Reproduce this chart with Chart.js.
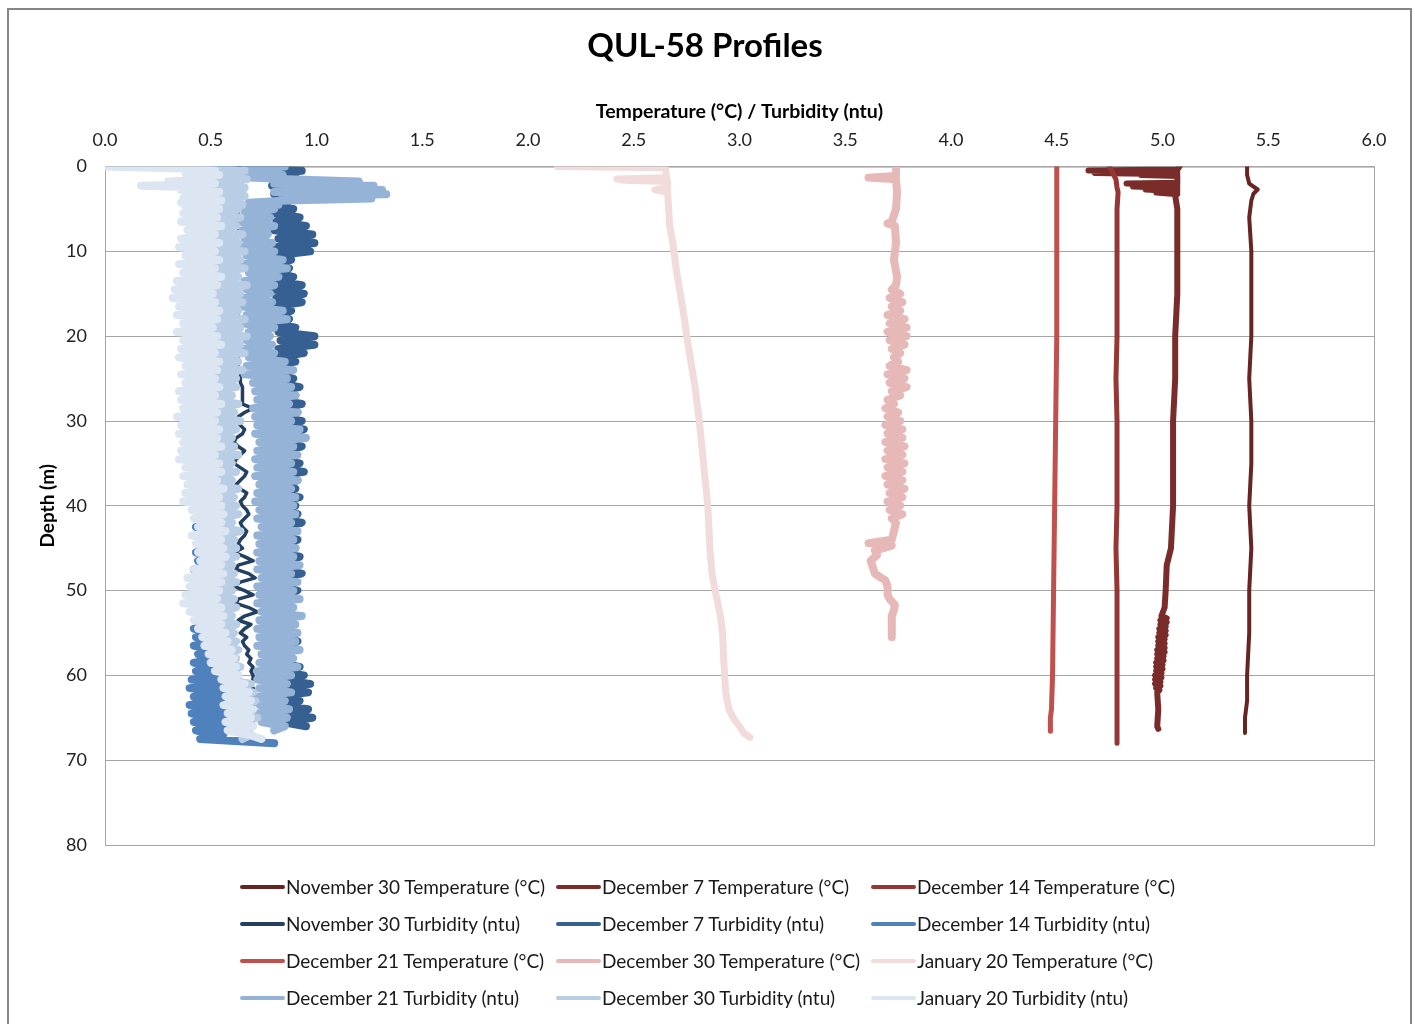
<!DOCTYPE html>
<html>
<head>
<meta charset="utf-8">
<script src="https://cdn.jsdelivr.net/npm/chart.js@4.4.1/dist/chart.umd.min.js"></script>
<style>
  body { margin: 0; background: #fff; font-family: Lato, "Open Sans", sans-serif; }
  #wrap { position: relative; width: 1415px; height: 1024px; overflow: hidden; }
  #chart { position: absolute; left: 0; top: 0; }
  #frame { position: absolute; left: 7px; top: 8px; width: 1401px; height: 1040px; border: 2px solid #868686; pointer-events: none; }
  #legend { position: absolute; left: 240px; top: 868px; display: grid; grid-template-columns: 316px 315px 316px; grid-auto-rows: 37px; }
  .item { display: flex; align-items: center; font-size: 19px; color: #1a1a1a; white-space: nowrap; }
  .swatch { width: 45px; height: 4px; margin-right: 1px; border-radius: 2px; }
</style>
</head>
<body>
<div id="wrap">
  <canvas id="chart" width="1415" height="1024"></canvas>
  <div id="frame"></div>
  <div id="legend"></div>
</div>
<script>
// --- Data ---
// temperature profiles: depth (m) and value (°C)
const nov30TempDepth = [0, 1, 2, 2.7, 3.2, 4, 6, 10, 15, 20, 25, 30, 35, 40, 45, 50, 55, 60, 63, 65, 66, 66.8];
const nov30Temp = [5.40, 5.40, 5.41, 5.45, 5.43, 5.42, 5.41, 5.42, 5.42, 5.42, 5.41, 5.42, 5.42, 5.41, 5.42, 5.41, 5.41, 5.40, 5.40, 5.39, 5.39, 5.39];

const dec7TempDepth = [0, 0.35, 0.45, 0.6, 0.75, 0.9, 1.0, 1.1, 1.9, 2.0, 2.2, 2.35, 2.55, 2.7, 2.9, 3.05, 3.25, 3.4,
  5, 10, 15, 20, 25, 30, 35, 40, 45, 47, 50, 52,
  53, 53.25, 53.5, 53.75, 54, 54.25, 54.5, 54.75, 55, 55.25, 55.5, 55.75, 56, 56.25, 56.5, 56.75, 57, 57.25, 57.5, 57.75,
  58, 58.25, 58.5, 58.75, 59, 59.25, 59.5, 59.75, 60, 60.25, 60.5, 60.75, 61, 61.25, 61.5, 61.75, 62,
  64, 66, 66.3];
const dec7Temp = [5.08, 5.07, 4.65, 5.07, 4.68, 5.07, 4.90, 5.07, 5.07, 4.83, 5.07, 4.86, 5.07, 4.92, 5.07, 4.97, 5.07, 5.06,
  5.07, 5.07, 5.07, 5.06, 5.06, 5.05, 5.05, 5.05, 5.04, 5.02, 5.015, 5.01,
  4.995, 5.02, 4.99, 5.02, 4.99, 5.015, 4.985, 5.015, 4.985, 5.015, 4.98, 5.01, 4.98, 5.01, 4.98, 5.01, 4.975, 5.01, 4.975, 5.005,
  4.975, 5.005, 4.97, 5.0, 4.97, 5.0, 4.97, 4.995, 4.965, 4.995, 4.965, 4.99, 4.965, 4.99, 4.97, 4.985, 4.975,
  4.98, 4.975, 4.98];

const dec14TempDepth = [0, 0.5, 1, 1.5, 2.5, 3, 5, 10, 15, 20, 25, 30, 35, 40, 45, 50, 55, 60, 65, 68];
const dec14Temp = [4.75, 4.76, 4.77, 4.78, 4.785, 4.79, 4.785, 4.785, 4.785, 4.785, 4.78, 4.785, 4.785, 4.785, 4.78, 4.785, 4.785, 4.785, 4.785, 4.785];

const dec21TempDepth = [0, 5, 10, 20, 30, 40, 50, 60, 64, 65, 66.6];
const dec21Temp = [4.50, 4.50, 4.50, 4.50, 4.495, 4.49, 4.485, 4.48, 4.475, 4.47, 4.47];

const dec30TempDepth = [0.3, 1.1, 1.3, 1.5, 3, 5, 6.5, 6.7, 7, 9, 11, 13, 14,
  14.5, 15, 15.5, 16, 16.5, 17, 17.5, 18, 18.5, 19, 19.5, 20, 20.5, 21, 21.5, 22, 22.5, 23, 23.5, 24, 24.5, 25,
  25.5, 26, 26.5, 27, 27.5, 28, 28.5, 29, 29.5, 30, 30.5, 31, 31.5, 32, 32.5, 33, 33.5, 34, 34.5, 35,
  35.5, 36, 36.5, 37, 37.5, 38, 38.5, 39, 39.5, 40, 40.5, 41, 41.5, 42,
  43, 44, 44.4, 44.7, 45.3, 45.8, 46.5, 47.2, 48, 48.5, 48.8, 49.5, 50.5, 51, 51.7, 52.3, 53, 54, 55.5];
const dec30Temp = [3.74, 3.74, 3.61, 3.74, 3.745, 3.74, 3.72, 3.70, 3.735, 3.74, 3.73, 3.745, 3.74,
  3.72, 3.76, 3.71, 3.77, 3.72, 3.76, 3.70, 3.78, 3.71, 3.79, 3.70, 3.79, 3.71, 3.78, 3.72, 3.76, 3.73, 3.75, 3.71, 3.79, 3.70, 3.78,
  3.71, 3.79, 3.72, 3.76, 3.70, 3.73, 3.69, 3.75, 3.70, 3.76, 3.69, 3.77, 3.70, 3.77, 3.69, 3.78, 3.70, 3.77, 3.69, 3.78,
  3.70, 3.77, 3.69, 3.77, 3.70, 3.78, 3.71, 3.77, 3.70, 3.76, 3.71, 3.77, 3.72, 3.74,
  3.73, 3.72, 3.61, 3.72, 3.64, 3.65, 3.62, 3.63, 3.64, 3.67, 3.69, 3.70, 3.70, 3.71, 3.735, 3.73, 3.72, 3.72, 3.72];

const jan20TempDepth = [0, 0.15, 1.3, 1.45, 1.6, 1.75, 2.5, 2.75, 3, 5, 7, 9, 10, 12, 15, 18, 20, 23, 26,
  30, 35, 40, 45, 48, 50, 53, 55, 58, 60, 62, 64, 65, 66, 66.8, 67.3];
const jan20Temp = [2.14, 2.65, 2.655, 2.42, 2.45, 2.66, 2.66, 2.60, 2.66, 2.665, 2.67, 2.685, 2.69, 2.70, 2.72, 2.74, 2.75, 2.77, 2.79,
  2.81, 2.83, 2.85, 2.86, 2.87, 2.885, 2.91, 2.92, 2.925, 2.93, 2.935, 2.95, 2.97, 3.00, 3.02, 3.05];

// turbidity profiles share one depth grid (finer near the surface)
const turbDepth = [0, 0.25, 0.5, 0.75, 1, 1.25, 1.5, 1.75, 2, 2.25, 2.5, 2.75, 3, 3.25, 3.5, 3.75, 4, 4.25, 4.5, 4.75, 5,
  5.5, 6, 6.5, 7, 7.5, 8, 8.5, 9, 9.5, 10,
  10.5, 11, 11.5, 12, 12.5, 13, 13.5, 14, 14.5, 15,
  15.5, 16, 16.5, 17, 17.5, 18, 18.5, 19, 19.5, 20,
  20.5, 21, 21.5, 22, 22.5, 23, 23.5, 24, 24.5, 25,
  25.5, 26, 26.5, 27, 27.5, 28, 28.5, 29, 29.5, 30,
  30.5, 31, 31.5, 32, 32.5, 33, 33.5, 34, 34.5, 35,
  35.5, 36, 36.5, 37, 37.5, 38, 38.5, 39, 39.5, 40,
  40.5, 41, 41.5, 42, 42.5, 43, 43.5, 44, 44.5, 45,
  45.5, 46, 46.5, 47, 47.5, 48, 48.5, 49, 49.5, 50,
  50.5, 51, 51.5, 52, 52.5, 53, 53.5, 54, 54.5, 55,
  55.5, 56, 56.5, 57, 57.5, 58, 58.5, 59, 59.5, 60,
  60.5, 61, 61.5, 62, 62.5, 63, 63.5, 64, 64.5, 65,
  65.5, 66, 66.5, 67, 67.5, 68];

const nov30Turb = [0.64, 0.64, 0.63, 0.64, 0.64, 0.63, 0.64, 0.65, 0.64, 0.63, 0.64, 0.64, 0.63, 0.64, 0.64, 0.63, 0.64, 0.63, 0.64, 0.63, 0.63,
  0.63, 0.62, 0.63, 0.62, 0.63, 0.62, 0.62, 0.63, 0.62, 0.62,
  0.62, 0.63, 0.62, 0.61, 0.62, 0.63, 0.62, 0.61, 0.62, 0.62,
  0.61, 0.62, 0.61, 0.62, 0.63, 0.62, 0.61, 0.62, 0.61, 0.62,
  0.61, 0.60, 0.61, 0.62, 0.63, 0.62, 0.63, 0.64, 0.64, 0.64,
  0.64, 0.65, 0.65, 0.65, 0.65, 0.65, 0.70, 0.66, 0.63, 0.62,
  0.64, 0.66, 0.65, 0.62, 0.61, 0.63, 0.66, 0.64, 0.62, 0.61,
  0.64, 0.67, 0.66, 0.64, 0.62, 0.64, 0.67, 0.66, 0.64, 0.65,
  0.67, 0.68, 0.66, 0.64, 0.65, 0.67, 0.66, 0.64, 0.63, 0.65,
  0.61, 0.66, 0.70, 0.63, 0.62, 0.68, 0.71, 0.64, 0.61, 0.66,
  0.70, 0.63, 0.62, 0.68, 0.72, 0.66, 0.63, 0.69, 0.66, 0.64,
  0.67, 0.65, 0.66, 0.68, 0.67, 0.69, 0.68, 0.70, 0.69, 0.70,
  0.70, 0.69, 0.70, 0.71, 0.70, 0.69, 0.70, 0.71, 0.70, 0.70,
  0.70, 0.70];

const dec7Turb = [0.62, 0.80, 0.93, 0.78, 0.90, 0.80, 0.88, 0.80, 0.86, 0.79, 0.88, 0.81, 0.87, 0.80, 0.88, 0.82, 0.87, 0.80, 0.86, 0.83, 0.89,
  0.80, 0.92, 0.81, 0.95, 0.80, 0.98, 0.82, 0.99, 0.81, 0.97,
  0.80, 0.88, 0.79, 0.87, 0.80, 0.89, 0.81, 0.93, 0.80, 0.94,
  0.81, 0.93, 0.80, 0.88, 0.79, 0.87, 0.80, 0.90, 0.82, 0.99,
  0.83, 0.99, 0.82, 0.94, 0.80, 0.90, 0.79, 0.88, 0.80, 0.89,
  0.81, 0.92, 0.80, 0.90, 0.82, 0.93, 0.81, 0.91, 0.80, 0.93,
  0.81, 0.94, 0.80, 0.91, 0.82, 0.93, 0.81, 0.90, 0.80, 0.92,
  0.81, 0.94, 0.80, 0.91, 0.82, 0.90, 0.81, 0.92, 0.80, 0.90,
  0.81, 0.91, 0.80, 0.93, 0.82, 0.89, 0.81, 0.91, 0.80, 0.90,
  0.81, 0.92, 0.80, 0.89, 0.82, 0.93, 0.81, 0.90, 0.80, 0.91,
  0.81, 0.89, 0.80, 0.88, 0.82, 0.90, 0.79, 0.87, 0.80, 0.89,
  0.81, 0.91, 0.80, 0.89, 0.82, 0.88, 0.81, 0.92, 0.80, 0.94,
  0.82, 0.97, 0.83, 0.96, 0.81, 0.92, 0.80, 0.96, 0.82, 0.98,
  0.84, 0.95];

const dec14Turb = [0.55, 0.60, 0.48, 0.62, 0.50, 0.60, 0.48, 0.63, 0.50, 0.61, 0.49, 0.62, 0.50, 0.60, 0.48, 0.62, 0.50, 0.61, 0.49, 0.62, 0.50,
  0.47, 0.60, 0.48, 0.61, 0.46, 0.60, 0.47, 0.62, 0.46, 0.60,
  0.47, 0.61, 0.46, 0.60, 0.47, 0.62, 0.45, 0.60, 0.46, 0.61,
  0.45, 0.60, 0.46, 0.61, 0.45, 0.59, 0.46, 0.60, 0.45, 0.61,
  0.46, 0.60, 0.45, 0.61, 0.46, 0.59, 0.45, 0.60, 0.46, 0.61,
  0.45, 0.60, 0.46, 0.59, 0.45, 0.61, 0.46, 0.60, 0.45, 0.59,
  0.45, 0.60, 0.44, 0.59, 0.45, 0.61, 0.44, 0.60, 0.45, 0.59,
  0.44, 0.58, 0.43, 0.59, 0.45, 0.60, 0.44, 0.58, 0.43, 0.59,
  0.45, 0.58, 0.44, 0.59, 0.43, 0.58, 0.45, 0.60, 0.44, 0.58,
  0.43, 0.57, 0.44, 0.58, 0.42, 0.57, 0.43, 0.59, 0.42, 0.57,
  0.43, 0.56, 0.42, 0.57, 0.43, 0.58, 0.44, 0.56, 0.42, 0.57,
  0.43, 0.56, 0.42, 0.57, 0.44, 0.56, 0.42, 0.58, 0.43, 0.56,
  0.41, 0.56, 0.40, 0.57, 0.42, 0.55, 0.40, 0.58, 0.41, 0.56,
  0.42, 0.57, 0.43, 0.56, 0.45, 0.80];

const dec21Turb = [0.85, 0.66, 0.82, 0.64, 0.84, 0.66, 0.86, 1.20, 0.80, 1.27, 0.82, 1.31, 0.80, 1.33, 0.84, 1.26, 0.86, 0.68, 0.82, 0.66, 0.80,
  0.66, 0.78, 0.64, 0.80, 0.65, 0.77, 0.66, 0.79, 0.64, 0.80,
  0.67, 0.84, 0.65, 0.86, 0.68, 0.82, 0.66, 0.80, 0.67, 0.78,
  0.66, 0.79, 0.65, 0.84, 0.67, 0.86, 0.66, 0.80, 0.68, 0.78,
  0.67, 0.79, 0.66, 0.80, 0.68, 0.85, 0.67, 0.89, 0.66, 0.86,
  0.70, 0.88, 0.71, 0.90, 0.72, 0.87, 0.70, 0.91, 0.71, 0.88,
  0.72, 0.92, 0.71, 0.95, 0.73, 0.89, 0.72, 0.91, 0.71, 0.88,
  0.72, 0.89, 0.71, 0.91, 0.73, 0.88, 0.72, 0.90, 0.71, 0.89,
  0.73, 0.90, 0.72, 0.88, 0.74, 0.91, 0.72, 0.89, 0.73, 0.90,
  0.72, 0.89, 0.73, 0.92, 0.72, 0.88, 0.74, 0.91, 0.72, 0.89,
  0.73, 0.92, 0.72, 0.89, 0.74, 0.93, 0.73, 0.90, 0.72, 0.91,
  0.73, 0.90, 0.72, 0.92, 0.74, 0.89, 0.73, 0.91, 0.72, 0.88,
  0.72, 0.86, 0.73, 0.88, 0.72, 0.85, 0.73, 0.87, 0.72, 0.86,
  0.74, 0.85, 0.80];

const dec30Turb = [0.60, 0.50, 0.66, 0.52, 0.64, 0.50, 0.67, 0.54, 0.63, 0.50, 0.66, 0.52, 0.65, 0.50, 0.66, 0.53, 0.64, 0.50, 0.65, 0.52, 0.63,
  0.49, 0.64, 0.51, 0.62, 0.48, 0.65, 0.50, 0.63, 0.49, 0.66,
  0.50, 0.64, 0.48, 0.66, 0.51, 0.63, 0.49, 0.67, 0.50, 0.64,
  0.48, 0.65, 0.47, 0.63, 0.50, 0.66, 0.48, 0.64, 0.49, 0.67,
  0.50, 0.64, 0.48, 0.66, 0.51, 0.63, 0.49, 0.65, 0.50, 0.62,
  0.49, 0.62, 0.47, 0.60, 0.50, 0.63, 0.48, 0.61, 0.50, 0.64,
  0.48, 0.62, 0.49, 0.60, 0.50, 0.61, 0.48, 0.63, 0.49, 0.60,
  0.50, 0.62, 0.49, 0.60, 0.51, 0.63, 0.50, 0.61, 0.52, 0.62,
  0.52, 0.63, 0.51, 0.60, 0.53, 0.64, 0.52, 0.61, 0.54, 0.62,
  0.53, 0.62, 0.52, 0.60, 0.54, 0.61, 0.52, 0.62, 0.53, 0.60,
  0.50, 0.61, 0.51, 0.62, 0.52, 0.60, 0.53, 0.62, 0.54, 0.61,
  0.53, 0.62, 0.54, 0.63, 0.55, 0.62, 0.56, 0.64, 0.57, 0.63,
  0.58, 0.69, 0.59, 0.70, 0.58, 0.71, 0.60, 0.70, 0.59, 0.72,
  0.60, 0.70, 0.61, 0.69, 0.65];

const jan20Turb = [0.00, 0.40, 0.52, 0.38, 0.54, 0.40, 0.50, 0.30, 0.52, 0.17, 0.50, 0.36, 0.54, 0.38, 0.52, 0.37, 0.55, 0.36, 0.52, 0.38, 0.54,
  0.37, 0.53, 0.36, 0.55, 0.39, 0.52, 0.36, 0.54, 0.35, 0.52,
  0.38, 0.54, 0.35, 0.52, 0.37, 0.55, 0.34, 0.53, 0.33, 0.51,
  0.32, 0.52, 0.35, 0.54, 0.34, 0.53, 0.37, 0.51, 0.34, 0.53,
  0.37, 0.55, 0.36, 0.52, 0.35, 0.54, 0.38, 0.53, 0.36, 0.52,
  0.38, 0.54, 0.35, 0.52, 0.36, 0.55, 0.37, 0.53, 0.34, 0.52,
  0.36, 0.54, 0.35, 0.53, 0.37, 0.55, 0.36, 0.52, 0.35, 0.54,
  0.38, 0.55, 0.37, 0.53, 0.39, 0.56, 0.38, 0.54, 0.37, 0.55,
  0.41, 0.56, 0.42, 0.55, 0.44, 0.57, 0.41, 0.55, 0.43, 0.56,
  0.44, 0.57, 0.45, 0.55, 0.42, 0.56, 0.39, 0.55, 0.40, 0.54,
  0.38, 0.53, 0.37, 0.55, 0.40, 0.56, 0.42, 0.55, 0.44, 0.57,
  0.46, 0.58, 0.47, 0.60, 0.49, 0.61, 0.50, 0.62, 0.52, 0.63,
  0.55, 0.66, 0.56, 0.68, 0.57, 0.69, 0.56, 0.70, 0.58, 0.69,
  0.57, 0.70, 0.58, 0.68, 0.74];

// legend order (row by row) is also the drawing order
const labels = [
  "November 30 Temperature (°C)", "December 7 Temperature (°C)", "December 14 Temperature (°C)",
  "November 30 Turbidity (ntu)", "December 7 Turbidity (ntu)", "December 14 Turbidity (ntu)",
  "December 21 Temperature (°C)", "December 30 Temperature (°C)", "January 20 Temperature (°C)",
  "December 21 Turbidity (ntu)", "December 30 Turbidity (ntu)", "January 20 Turbidity (ntu)",
];
const colors = [
  "#652523", "#7a2c2a", "#953735",
  "#243f60", "#376092", "#4f81bd",
  "#c0504d", "#e6b9b8", "#f2dcdb",
  "#95b3d7", "#b9cde5", "#dce6f2",
];
const depths = [nov30TempDepth, dec7TempDepth, dec14TempDepth, turbDepth, turbDepth, turbDepth,
  dec21TempDepth, dec30TempDepth, jan20TempDepth, turbDepth, turbDepth, turbDepth];
const values = [nov30Temp, dec7Temp, dec14Temp, nov30Turb, dec7Turb, dec14Turb,
  dec21Temp, dec30Temp, jan20Temp, dec21Turb, dec30Turb, jan20Turb];
const widths = [4, 6, 5, 3.5, 8, 8, 5, 8, 7, 8, 8, 8];

// --- Build ---
const pts = (ds, vs) => vs.map((v, i) => ({ x: v, y: ds[i] }));

const datasets = labels.map((label, i) => ({
  label,
  data: pts(depths[i], values[i]),
  showLine: true,
  borderColor: colors[i],
  backgroundColor: colors[i],
  borderWidth: widths[i],
  borderJoinStyle: "round",
  borderCapStyle: "round",
  pointRadius: 0,
  tension: 0,
  order: labels.length - i, // later series on top
}));

const plotBorder = {
  id: "plotBorder",
  beforeDatasetsDraw(c) {
    const { ctx, chartArea: a } = c;
    ctx.save();
    ctx.strokeStyle = "#a6a6a6";
    ctx.lineWidth = 1;
    ctx.strokeRect(a.left + 0.5, a.top + 0.5, a.right - a.left, a.bottom - a.top);
    ctx.restore();
  },
};

Chart.defaults.font.family = "Lato, 'Open Sans', sans-serif";

new Chart(document.getElementById("chart").getContext("2d"), {
  type: "scatter",
  data: { datasets },
  options: {
    responsive: false,
    animation: false,
    events: [],
    layout: { padding: { left: 36, right: 41, top: 0, bottom: 179 } },
    plugins: {
      legend: { display: false },
      tooltip: { enabled: false },
      title: {
        display: true,
        text: "QUL-58 Profiles",
        color: "#000",
        font: { size: 33, weight: "bold" },
        padding: { top: 27, bottom: 29 },
      },
    },
    scales: {
      x: {
        type: "linear",
        position: "top",
        min: 0,
        max: 6,
        ticks: { stepSize: 0.5, padding: 16, color: "#222", font: { size: 18 }, callback: (v) => v.toFixed(1) },
        grid: { display: false, drawTicks: false },
        border: { display: true, color: "#a6a6a6" },
        title: {
          display: true,
          text: "Temperature (°C) / Turbidity (ntu)",
          color: "#000",
          font: { size: 19.5, weight: "bold" },
          padding: { top: 4, bottom: 0 },
        },
        afterFit: (s) => { s.height = 71; },
      },
      y: {
        type: "linear",
        reverse: true,
        min: 0,
        max: 80,
        ticks: { stepSize: 10, padding: 18, color: "#222", font: { size: 18 } },
        grid: { color: "#a6a6a6", drawTicks: false },
        border: { display: true, color: "#a6a6a6" },
        title: {
          display: true,
          text: "Depth (m)",
          color: "#000",
          font: { size: 19, weight: "bold" },
          padding: { top: 0, bottom: 0 },
        },
        afterFit: (s) => { s.width = 69; },
      },
    },
  },
  plugins: [plotBorder],
});

// --- Legend (3 columns, row by row) ---
const legend = document.getElementById("legend");
labels.forEach((label, i) => {
  const item = document.createElement("div");
  item.className = "item";
  const sw = document.createElement("span");
  sw.className = "swatch";
  sw.style.background = colors[i];
  item.appendChild(sw);
  item.appendChild(document.createTextNode(label));
  legend.appendChild(item);
});
</script>
</body>
</html>
